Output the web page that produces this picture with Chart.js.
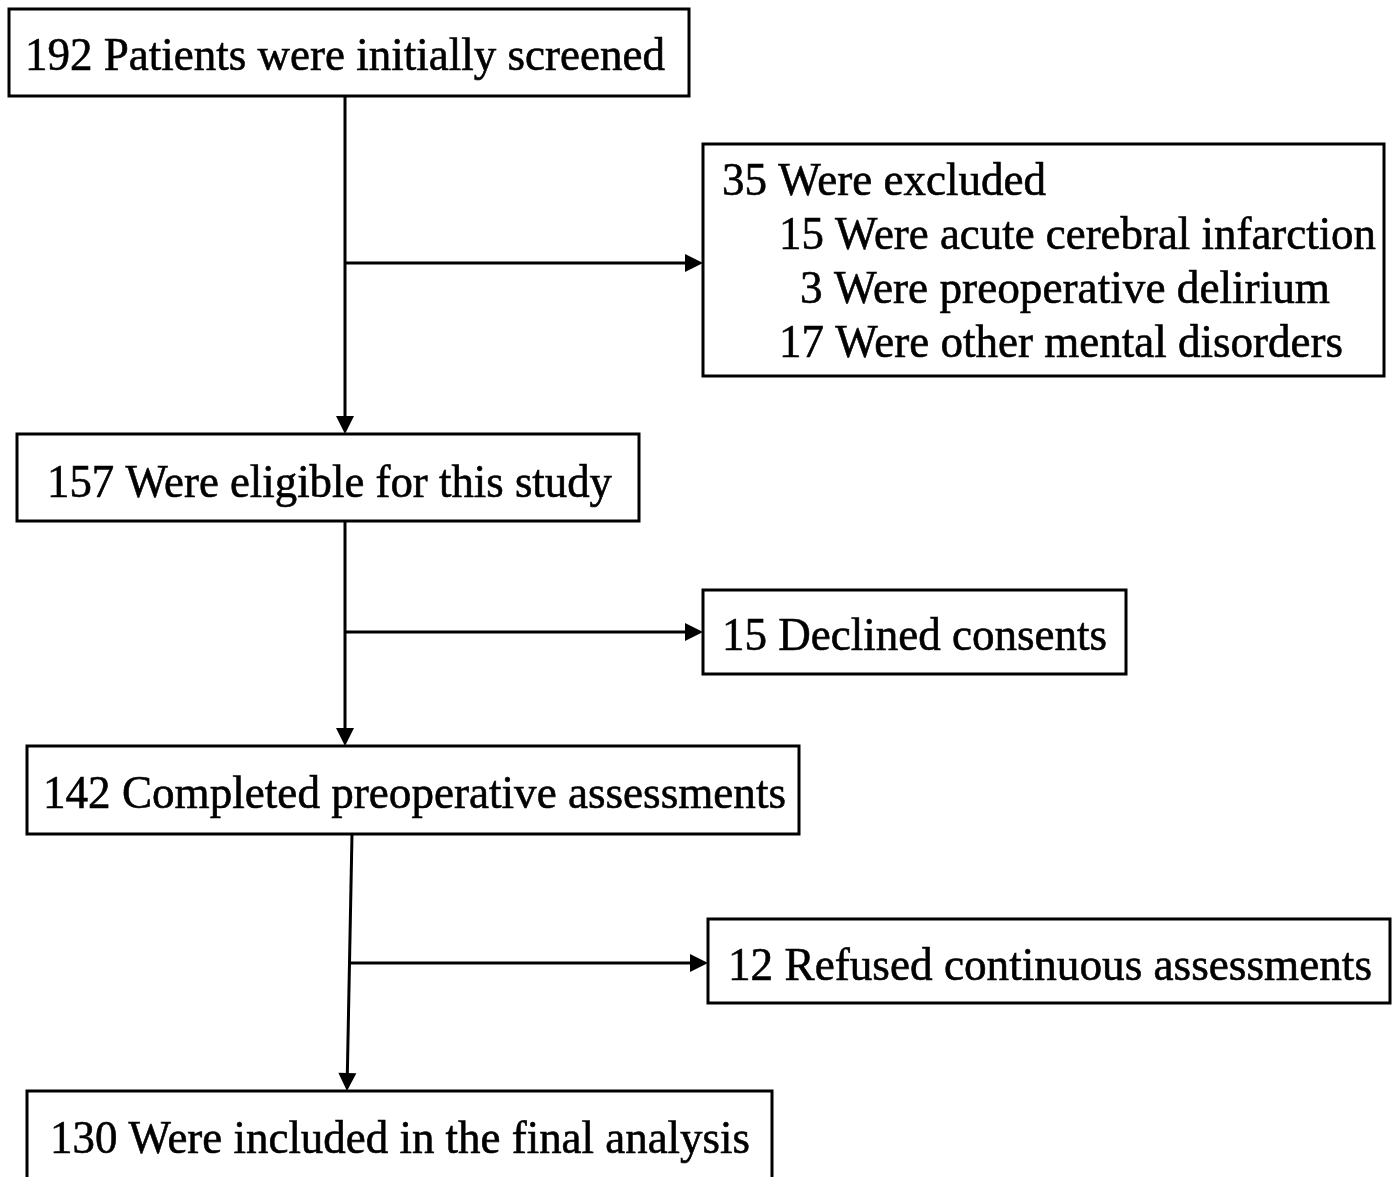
<!DOCTYPE html>
<html>
<head>
<meta charset="utf-8">
<script src="https://cdn.jsdelivr.net/npm/chart.js@4.4.1/dist/chart.umd.min.js"></script>
<style>
  html, body { margin: 0; padding: 0; background: #fff; }
  #wrap { width: 1393px; height: 1177px; }
</style>
</head>
<body>
<div id="wrap"><canvas id="flow"></canvas></div>
<script>
// flow stages and exclusions
var stageLabels = [
  '192 Patients were initially screened',
  '157 Were eligible for this study',
  '142 Completed preoperative assessments',
  '130 Were included in the final analysis'
];
var exclusionLabels = [
  ['35 Were excluded', '15 Were acute cerebral infarction', '3 Were preoperative delirium', '17 Were other mental disorders'],
  ['15 Declined consents'],
  ['12 Refused continuous assessments']
];

// layout in picture units (0..1393, 0..1177)
var stageBoxes = [
  { x0: 9, y0: 9, x1: 689, y1: 96, tx: 25, ty: 70, tw: 640 },
  { x0: 17, y0: 434, x1: 639, y1: 521, tx: 47, ty: 497, tw: 565 },
  { x0: 27, y0: 746, x1: 799, y1: 834, tx: 43, ty: 808, tw: 743 },
  { x0: 27, y0: 1091, x1: 772, y1: 1185, tx: 50, ty: 1153, tw: 700 }
];
var exclBoxes = [
  { x0: 703, y0: 144, x1: 1384, y1: 376, lines: [[722, 195, 324], [779, 249, 597], [800, 303, 530], [779, 357, 564]] },
  { x0: 703, y0: 590, x1: 1126, y1: 674, lines: [[722, 650, 385]] },
  { x0: 708, y0: 919, x1: 1390, y1: 1003, lines: [[728, 980, 644]] }
];
var trunks = [
  [345, 96, 345, 434],
  [345, 521, 345, 746],
  [352, 834, 347, 1091]
];
var branches = [
  [345, 263, 703],
  [345, 632, 703],
  [350, 963, 708]
];

var flowPlugin = {
  id: 'flow',
  afterDraw: function(chart) {
    var ctx = chart.ctx;
    var sx = chart.scales.x, sy = chart.scales.y;
    function X(v) { return sx.getPixelForValue(v); }
    function Y(v) { return sy.getPixelForValue(v); }

    ctx.save();
    ctx.strokeStyle = '#000';
    ctx.fillStyle = '#000';
    ctx.lineWidth = 3;

    function box(b) {
      ctx.strokeRect(X(b.x0), Y(b.y0), X(b.x1) - X(b.x0), Y(b.y1) - Y(b.y0));
    }
    function arrow(x1, y1, x2, y2) {
      var ang = Math.atan2(Y(y2) - Y(y1), X(x2) - X(x1));
      var len = 18, half = 9;
      var bx = X(x2) - len * Math.cos(ang), by = Y(y2) - len * Math.sin(ang);
      ctx.beginPath();
      ctx.moveTo(X(x1), Y(y1));
      ctx.lineTo(bx, by);
      ctx.stroke();
      ctx.beginPath();
      ctx.moveTo(X(x2), Y(y2));
      ctx.lineTo(bx - half * Math.sin(ang), by + half * Math.cos(ang));
      ctx.lineTo(bx + half * Math.sin(ang), by - half * Math.cos(ang));
      ctx.closePath();
      ctx.fill();
    }

    stageBoxes.forEach(box);
    exclBoxes.forEach(box);
    trunks.forEach(function(t) { arrow(t[0], t[1], t[2], t[3]); });
    branches.forEach(function(b) { arrow(b[0], b[1], b[2], b[1]); });

    // text squeezed to the widths seen in the picture
    ctx.font = '46px "Liberation Serif", "Times New Roman", serif';
    ctx.textBaseline = 'alphabetic';
    ctx.textAlign = 'left';
    ctx.lineWidth = 0.6;
    function txt(t, x, y, w) {
      var mw = X(x + w) - X(x);
      ctx.fillText(t, X(x), Y(y), mw);
      ctx.strokeText(t, X(x), Y(y), mw);
    }
    stageLabels.forEach(function(t, i) {
      var b = stageBoxes[i];
      txt(t, b.tx, b.ty, b.tw);
    });
    exclusionLabels.forEach(function(lines, i) {
      lines.forEach(function(t, j) {
        var l = exclBoxes[i].lines[j];
        txt(t, l[0], l[1], l[2]);
      });
    });
    ctx.restore();
  }
};

new Chart(document.getElementById('flow'), {
  type: 'scatter',
  data: { datasets: [{ data: [], pointRadius: 0 }] },
  options: {
    responsive: true,
    maintainAspectRatio: false,
    animation: false,
    layout: { padding: 0 },
    plugins: { legend: { display: false }, tooltip: { enabled: false } },
    scales: {
      x: { type: 'linear', min: 0, max: 1393, display: false },
      y: { type: 'linear', min: 0, max: 1177, reverse: true, display: false }
    }
  },
  plugins: [flowPlugin]
});
</script>
</body>
</html>
